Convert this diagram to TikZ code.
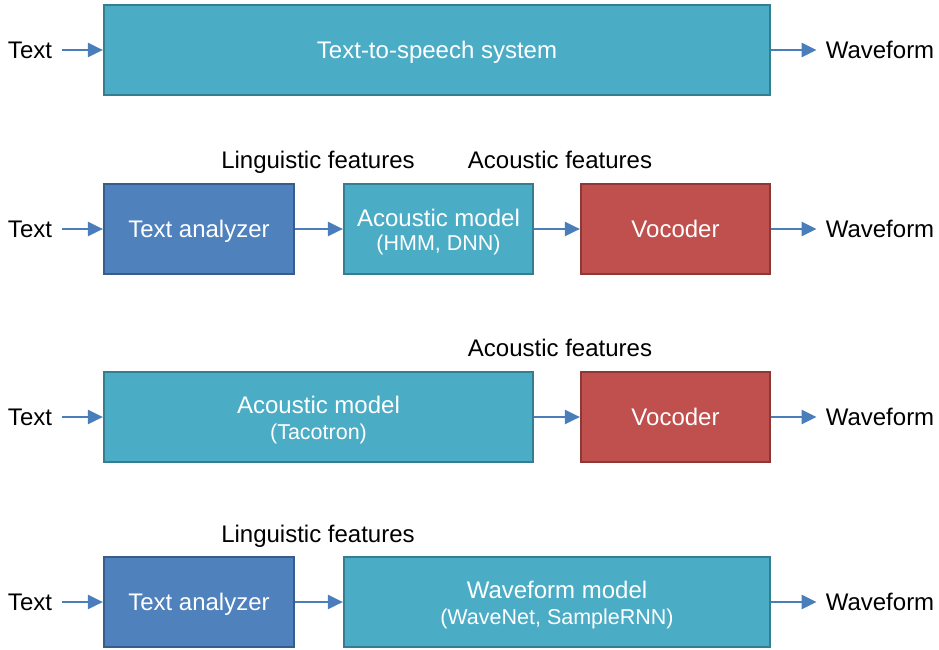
\documentclass[tikz,border=0pt]{standalone}
\usepackage{fontspec}
\setmainfont{Liberation Sans}
\usetikzlibrary{arrows.meta}
\definecolor{tealfill}{HTML}{4BACC6}
\definecolor{tealline}{HTML}{357D91}
\definecolor{bluefill}{HTML}{4F81BD}
\definecolor{blueline}{HTML}{385D8A}
\definecolor{redfill}{HTML}{C0504D}
\definecolor{redline}{HTML}{8C3836}
\definecolor{arrowblue}{HTML}{4A7EBB}
\tikzset{
  blk/.style={draw, line width=2.2pt, minimum height=90pt, inner sep=0pt},
  tealbox/.style={blk, fill=tealfill, draw=tealline},
  bluebox/.style={blk, fill=bluefill, draw=blueline},
  redbox/.style={blk, fill=redfill, draw=redline},
  big/.style={font=\fontsize{24}{26}\selectfont, text height=17.5pt, text depth=0pt, inner sep=0pt},
  small/.style={font=\fontsize{21.5}{24}\selectfont, text height=15.5pt, text depth=0pt, inner sep=0pt},
  intext/.style={text=white},
  flow/.style={draw=arrowblue, line width=2.4pt, -{Triangle[length=15pt,width=14pt]}},
  flowin/.style={flow, shorten <=10pt},
  flowout/.style={flow, shorten >=9pt},
}
\begin{document}
\begin{tikzpicture}[x=1pt,y=-1pt]
\useasboundingbox (0,0) rectangle (939,650);

% ---- row 1: end-to-end system ----
\node[tealbox, minimum width=666pt] (tts) at (437,50) {};
\node[big, intext] (ttsL) at (tts.center) {Text-to-speech system};
\node[big] (in1) at (30,50) {Text};
\node[big] (out1) at (880,50) {Waveform};
\draw[flowin] (in1.east) -- (tts.west);
\draw[flowout] (tts.east) -- (out1.west);

% ---- row 2: classic pipeline ----
\node[bluebox, minimum width=190pt] (ta2) at (199,229) {};
\node[big, intext] (ta2L) at (ta2.center) {Text analyzer};
\node[tealbox, minimum width=189pt] (am2) at (438.5,229) {};
\node[big, intext] (am2L) at ([yshift=11pt]am2.center) {Acoustic model};
\node[small, intext] (am2S) at ([yshift=-14pt]am2.center) {(HMM, DNN)};
\node[redbox, minimum width=189pt] (vc2) at (675.5,229) {};
\node[big, intext] (vc2L) at (vc2.center) {Vocoder};
\node[big] (in2) at (30,229) {Text};
\node[big] (out2) at (880,229) {Waveform};
\node[big] (lf2) at (318,160) {Linguistic features};
\node[big] (af2) at (560,160) {Acoustic features};
\draw[flowin] (in2.east) -- (ta2.west);
\draw[flow] (ta2.east) -- (am2.west);
\draw[flow] (am2.east) -- (vc2.west);
\draw[flowout] (vc2.east) -- (out2.west);

% ---- row 3: Tacotron + vocoder ----
\node[tealbox, minimum width=429pt] (am3) at (318.5,417) {};
\node[big, intext] (am3L) at ([yshift=12pt]am3.center) {Acoustic model};
\node[small, intext] (am3S) at ([yshift=-15pt]am3.center) {(Tacotron)};
\node[redbox, minimum width=189pt] (vc3) at (675.5,417) {};
\node[big, intext] (vc3L) at (vc3.center) {Vocoder};
\node[big] (in3) at (30,417) {Text};
\node[big] (out3) at (880,417) {Waveform};
\node[big] (af3) at (560,348) {Acoustic features};
\draw[flowin] (in3.east) -- (am3.west);
\draw[flow] (am3.east) -- (vc3.west);
\draw[flowout] (vc3.east) -- (out3.west);

% ---- row 4: text analyzer + waveform model ----
\node[bluebox, minimum width=190pt] (ta4) at (199,602) {};
\node[big, intext] (ta4L) at (ta4.center) {Text analyzer};
\node[tealbox, minimum width=426pt] (wm4) at (557,602) {};
\node[big, intext] (wm4L) at ([yshift=12pt]wm4.center) {Waveform model};
\node[small, intext] (wm4S) at ([yshift=-15pt]wm4.center) {(WaveNet, SampleRNN)};
\node[big] (in4) at (30,602) {Text};
\node[big] (out4) at (880,602) {Waveform};
\node[big] (lf4) at (318,534) {Linguistic features};
\draw[flowin] (in4.east) -- (ta4.west);
\draw[flow] (ta4.east) -- (wm4.west);
\draw[flowout] (wm4.east) -- (out4.west);
\end{tikzpicture}
\end{document}
